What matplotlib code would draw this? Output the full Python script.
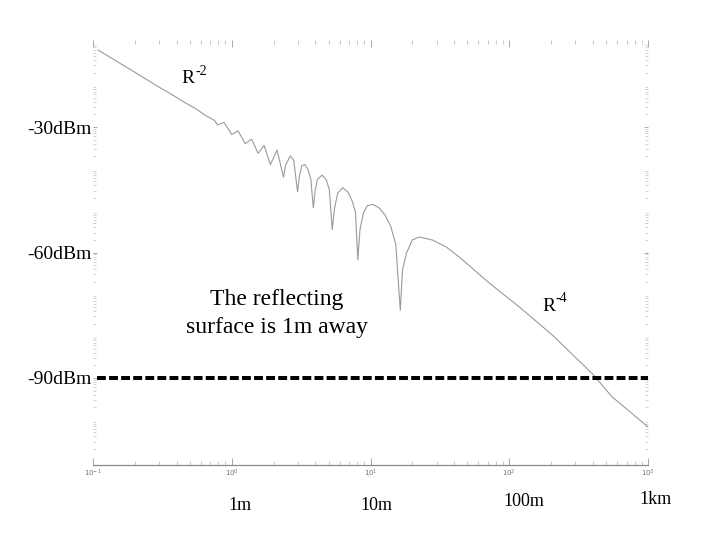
import matplotlib
matplotlib.use("Agg")
import matplotlib.pyplot as plt
from matplotlib.ticker import FixedLocator, NullFormatter
import numpy as np

# ---- data ----
distance_m = [0.109, 0.15, 0.2, 0.28, 0.36, 0.45, 0.55, 0.65, 0.75, 0.79,
              0.88, 1.0, 1.11, 1.25, 1.39, 1.55, 1.71, 1.9, 2.12, 2.36,
              2.45, 2.64, 2.80, 2.98, 3.08, 3.2, 3.37, 3.55, 3.72, 3.87,
              4.0, 4.15, 4.48, 4.8, 5.05, 5.3, 5.5, 5.8, 6.3, 6.9,
              7.4, 7.8, 8.1, 8.4, 8.9, 9.5, 10.4, 11.5, 12.7, 14.0,
              15.2, 16.4, 17.0, 18.2, 20.0, 22.5, 27.9, 35.2, 43.7, 71.8,
              118, 204, 395, 551, 1000]
power_dbm = [-11.6, -14.4, -16.9, -19.9, -22.0, -24.0, -25.6, -27.3, -28.4, -29.5,
             -28.9, -31.8, -30.9, -34.0, -32.9, -36.3, -34.4, -39.0, -35.5, -42.0,
             -39.0, -36.9, -38.0, -45.5, -41.6, -39.2, -39.0, -40.2, -42.6, -49.3,
             -45.0, -42.5, -41.5, -42.6, -45.0, -54.5, -49.5, -45.8, -44.5, -45.6,
             -47.8, -50.5, -61.7, -54.5, -50.5, -48.8, -48.5, -49.3, -51.0, -53.8,
             -58.0, -73.8, -64.2, -60.1, -57.0, -56.3, -57.0, -58.7, -61.1, -67.3,
             -73.0, -79.7, -88.9, -94.5, -101.7]
threshold_dbm = -90
ytick_values = [-30, -60, -90]
ytick_labels = ["-30dBm", "-60dBm", "-90dBm"]
xtick_values = [0.1, 1, 10, 100, 1000]
xtick_labels = [r"$10^{-1}$", r"$10^{0}$", r"$10^{1}$", r"$10^{2}$", r"$10^{3}$"]
distance_labels = ["1m", "10m", "100m", "1km"]
distance_label_pos = [1, 10, 100, 1000]

SERIF = "Liberation Serif"

fig = plt.figure(figsize=(7.2, 5.4), dpi=100)
ax = fig.add_axes([93 / 720, 1 - 465 / 540, 555 / 720, 425 / 540])
ax.set_xscale("log")
ax.set_xlim(0.1, 1000)
ax.set_ylim(-110.8, -9.2)

# curve
ax.plot(distance_m, power_dbm, color="#9a9a9a", lw=0.8)

# threshold dashed line
ax.plot([0.106, 1000], [threshold_dbm, threshold_dbm], color="black", lw=2.9,
        dashes=(2.2, 0.8), solid_capstyle="butt", dash_capstyle="butt")

# spines
for s in ["top", "left", "right"]:
    ax.spines[s].set_visible(False)
ax.spines["bottom"].set_color("#8a8a8a")
ax.spines["bottom"].set_linewidth(0.9)

# x ticks
ax.set_xticks(xtick_values)
ax.set_xticklabels(xtick_labels)
ax.tick_params(axis="x", which="major", direction="in", length=5, width=0.6,
               color="#9a9a9a", labelsize=5, labelcolor="#707070", pad=2,
               top=True)
ax.tick_params(axis="x", which="minor", direction="in", length=3, width=0.5,
               color="#b0b0b0", top=True)

# y ticks (faint log-style minor ticks on both sides)
ax.set_yticks(ytick_values)
ax.set_yticklabels(ytick_labels, fontfamily=SERIF, fontsize=14)
minor_y = []
for dec in range(-110, -9, 10):
    for k in range(2, 10):
        v = dec + 10 * np.log10(k)
        if -110.8 < v < -9.2:
            minor_y.append(v)
ax.yaxis.set_minor_locator(FixedLocator(minor_y))
ax.yaxis.set_minor_formatter(NullFormatter())
ax.tick_params(axis="y", which="major", direction="in", length=3, width=0.6,
               color="#9a9a9a", pad=1, right=True)
ax.tick_params(axis="y", which="minor", direction="in", length=2.5, width=0.5,
               color="#c0c0c0", right=True)

# annotations
ax.text(0.437, -19.5, "R", fontfamily=SERIF, fontsize=14, ha="left", va="baseline")
ax.text(0.551, -17.6, "-2", fontfamily=SERIF, fontsize=10, ha="left", va="baseline")
ax.text(172.7, -74.0, "R", fontfamily=SERIF, fontsize=14, ha="left", va="baseline")
ax.text(214, -71.8, "-4", fontfamily=SERIF, fontsize=10, ha="left", va="baseline")
ax.text(2.11, -74.5, "The reflecting\nsurface is 1m away", fontfamily=SERIF,
        fontsize=17, ha="center", va="center", linespacing=1.42)

# distance labels below the axis
for pos, lab, ypx, dx in zip(distance_label_pos, distance_labels,
                             [505, 505, 501, 500], [8, 6, 15, 8]):
    xpx = ax.transData.transform((pos, -60))[0]
    fig.text((xpx + dx) / 720, 1 - ypx / 540, lab, fontfamily=SERIF, fontsize=13,
             ha="center", va="center")

fig.savefig("out.png", dpi=100)
